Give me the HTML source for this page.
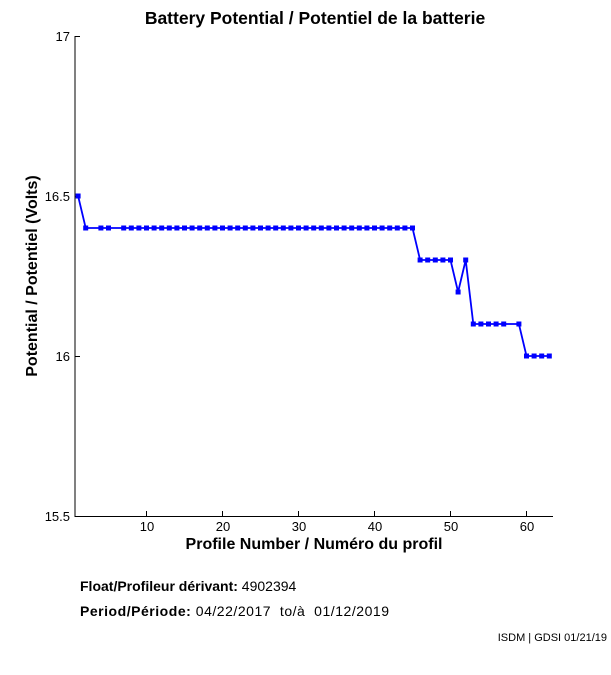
<!DOCTYPE html>
<html><head><meta charset="utf-8"><style>
html,body{margin:0;padding:0;background:#fff;width:611px;height:675px;overflow:hidden}
svg{display:block}
text{font-family:"Liberation Sans",sans-serif}
</style></head><body>
<svg id="s" width="611" height="675" xmlns="http://www.w3.org/2000/svg">
<text x="315" y="24" font-size="17.5" font-weight="bold" text-anchor="middle">Battery Potential / Potentiel de la batterie</text>
<line x1="75" y1="36" x2="75" y2="517" stroke="#000" stroke-width="1"/>
<line x1="75" y1="516.5" x2="553" y2="516.5" stroke="#000" stroke-width="1"/>
<g font-size="13" text-anchor="end">
<text x="70" y="41">17</text>
<text x="70" y="201">16.5</text>
<text x="70" y="361">16</text>
<text x="70" y="521">15.5</text>
</g>
<g stroke="#000" stroke-width="1">
<line x1="75" y1="36.5" x2="80" y2="36.5"/>
<line x1="75" y1="196.5" x2="80" y2="196.5"/>
<line x1="75" y1="356.5" x2="80" y2="356.5"/>
<line x1="146.5" y1="516" x2="146.5" y2="511"/>
<line x1="222.5" y1="516" x2="222.5" y2="511"/>
<line x1="298.5" y1="516" x2="298.5" y2="511"/>
<line x1="374.5" y1="516" x2="374.5" y2="511"/>
<line x1="450.5" y1="516" x2="450.5" y2="511"/>
<line x1="526.5" y1="516" x2="526.5" y2="511"/>
</g>
<g font-size="13" text-anchor="middle">
<text x="147" y="531">10</text>
<text x="223" y="531">20</text>
<text x="299" y="531">30</text>
<text x="375" y="531">40</text>
<text x="451" y="531">50</text>
<text x="527" y="531">60</text>
</g>
<text x="314" y="549" font-size="16" font-weight="bold" text-anchor="middle">Profile Number / Numéro du profil</text>
<text transform="translate(37,276) rotate(-90)" font-size="16" font-weight="bold" text-anchor="middle">Potential / Potentiel (Volts)</text>
<polyline id="ln" fill="none" stroke="#0000ff" stroke-width="1.8"/>
<g id="mk" fill="#0000ff"></g>
<text x="80" y="591" font-size="14"><tspan font-weight="bold">Float/Profileur dérivant:</tspan>&#160;4902394</text>
<text x="80" y="616" font-size="14" textLength="309" lengthAdjust="spacing"><tspan font-weight="bold">Period/Période:</tspan>&#160;04/22/2017&#160;&#160;to/à&#160;&#160;01/12/2019</text>
<text x="607" y="641" font-size="11" text-anchor="end">ISDM | GDSI 01/21/19</text>
</svg>
<script>
var d=[[1,16.5],[2,16.4],[4,16.4],[5,16.4]];
for(var n=7;n<=45;n++)d.push([n,16.4]);
[46,47,48,49,50].forEach(function(n){d.push([n,16.3])});
d.push([51,16.2]);d.push([52,16.3]);
[53,54,55,56,57,59].forEach(function(n){d.push([n,16.1])});
[60,61,62,63].forEach(function(n){d.push([n,16.0])});
var pts=[],mk='';
d.forEach(function(p){var x=70.5+p[0]*7.6,y=36+(17-p[1])*320;pts.push(x.toFixed(1)+','+y.toFixed(1));
mk+='<rect x="'+(x-2.5).toFixed(1)+'" y="'+(y-2.5).toFixed(1)+'" width="5" height="5"/>';});
document.getElementById('ln').setAttribute('points',pts.join(' '));
document.getElementById('mk').innerHTML=mk;
</script>
</body></html>
